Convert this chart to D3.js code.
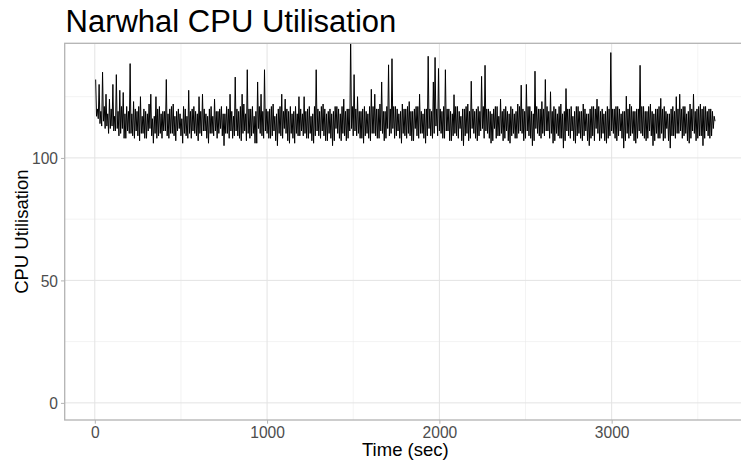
<!DOCTYPE html>
<html>
<head>
<meta charset="utf-8">
<script src="https://cdn.jsdelivr.net/npm/d3@7"></script>
<style>
  body { margin: 0; background: #fff; }
  svg { display: block; font-family: "Liberation Sans", Arial, sans-serif; }
  .title { font-size: 31px; fill: #000; }
  .axisTitle { font-size: 18.5px; fill: #000; }
  .tickLabel { font-size: 15.6px; fill: #4d4d4d; }
</style>
</head>
<body>
<div id="container"></div>
<script>
// cpu trace read off the reference plot as alternating peaks and troughs
// peaks: t = 5, 15, 25 ... 3595
var cpuPeaks = [
  132, 120, 130, 119, 135, 121, 126, 118, 124, 120, 130, 117, 134, 119, 127.6, 121, 126.7, 118, 121, 119,
  138.5, 118, 123, 120, 119, 121, 125, 117, 120, 119, 118, 122, 126, 116, 117, 125, 120, 121, 118, 119,
  119, 132, 118, 120, 121, 122, 117, 119, 120, 118, 116, 121, 120, 117, 127.6, 119, 120, 121, 119, 118,
  125, 119, 126, 120, 118, 117, 120, 121, 117, 124, 119, 119, 120, 121, 118, 118, 121, 120, 126, 119,
  117, 133, 120, 119, 121, 126, 122, 118, 136, 120, 120, 121, 117, 119, 131, 121, 126, 119, 136, 120,
  119, 120, 121, 122, 117, 118, 120, 121, 126, 119, 124, 120, 119, 121, 118, 119, 121, 118, 125, 120,
  118, 125, 119, 120, 121, 117, 118, 121, 136, 120, 119, 121, 122, 120, 118, 119, 120, 118, 119, 121,
  121, 120, 118, 121, 124, 119, 120, 120, 150, 121, 134, 120, 125, 119, 119, 120, 121, 119, 118, 121,
  128, 121, 126, 120, 120, 122, 131, 119, 119, 121, 138, 120, 140.5, 121, 121, 120, 118, 119, 122, 120,
  120, 121, 123, 119, 119, 120, 121, 121, 126, 119, 118, 120, 120, 141.5, 120, 119, 131, 141, 120, 136.5,
  120, 119, 121, 136, 120, 120, 119, 118, 125.8, 121, 121, 119, 117, 120, 120, 121, 122, 119, 131.3, 120,
  119, 120, 121, 119, 133.3, 121, 137.8, 120, 120, 119, 118, 120, 121, 121, 117, 124, 119, 120, 121, 119,
  118, 121, 120, 118, 119, 122, 121, 129.7, 120, 119, 130, 121, 121, 119, 118, 135.4, 121, 120, 120, 123,
  120, 132, 121, 119, 127, 119, 121, 120, 118, 121, 122, 118, 119, 128.3, 120, 120, 121, 117, 119, 121,
  121, 119, 119, 122, 120, 118, 118, 120, 121, 121, 120, 124, 121, 119, 120, 118, 119, 121, 120, 143,
  120, 120, 121, 121, 120, 118, 119, 119, 125.2, 120, 122, 121, 119, 119, 120, 120, 137.8, 121, 121, 119,
  119, 121, 122, 119, 118, 120, 120, 121, 124.3, 120, 121, 119, 118, 118, 120, 121, 119, 125, 120, 126,
  120, 121, 121, 118, 119, 122, 120, 126, 119, 120, 121, 122, 120, 121, 121, 119, 120, 120, 119, 117
];
// troughs: t = 10, 20, 30 ... 3600
var cpuTroughs = [
  117, 116, 114, 113, 115, 112, 113, 110, 112, 113, 111, 111, 112, 109, 110, 112, 108, 108, 111, 110,
  110, 109, 108, 111, 109, 107, 110, 110, 108, 108, 111, 112, 109, 106, 110, 108, 109, 110, 108, 111,
  111, 109, 108, 110, 110, 109, 107, 111, 112, 109, 106, 110, 109, 108, 110, 108, 111, 110, 109, 107,
  110, 109, 111, 111, 108, 106, 110, 110, 109, 111, 108, 110, 112, 109, 105, 110, 110, 108, 111, 108,
  109, 111, 109, 108, 107, 110, 111, 107, 110, 108, 109, 110, 106, 106, 112, 110, 109, 108, 111, 110,
  108, 108, 109, 111, 107, 105, 110, 109, 108, 112, 110, 107, 106, 110, 108, 106, 110, 109, 109, 111,
  109, 110, 108, 108, 110, 107, 106, 109, 111, 109, 108, 111, 109, 107, 107, 110, 108, 105, 107, 112,
  110, 108, 107, 110, 109, 107, 108, 111, 112, 109, 111, 109, 110, 108, 108, 106, 109, 110, 108, 107,
  110, 110, 109, 108, 108, 111, 110, 107, 108, 112, 109, 110, 112, 108, 109, 111, 108, 106, 110, 109,
  108, 110, 109, 107, 107, 112, 109, 108, 110, 110, 108, 106, 109, 112, 109, 108, 110, 113, 109, 111,
  110, 108, 108, 111, 111, 107, 107, 109, 110, 109, 108, 112, 107, 105, 109, 110, 107, 108, 112, 110,
  108, 107, 109, 111, 112, 108, 111, 110, 108, 106, 107, 112, 108, 109, 109, 110, 107, 108, 111, 107,
  106, 109, 110, 108, 108, 110, 111, 110, 107, 108, 111, 109, 108, 105, 107, 112, 110, 109, 108, 110,
  109, 111, 111, 108, 110, 106, 107, 110, 109, 108, 108, 104, 107, 111, 109, 108, 111, 107, 106, 109,
  110, 108, 107, 109, 111, 107, 105, 108, 109, 107, 112, 110, 107, 108, 110, 107, 106, 108, 109, 111,
  110, 108, 107, 109, 111, 108, 104, 107, 110, 108, 109, 110, 107, 106, 108, 111, 110, 109, 108, 107,
  108, 111, 109, 105, 107, 110, 108, 108, 110, 107, 108, 112, 107, 104, 109, 109, 108, 110, 110, 111,
  108, 109, 110, 107, 106, 108, 111, 110, 107, 108, 109, 109, 105, 108, 111, 109, 108, 109, 112, 115
];
var peakTimes = d3.range(5, 3600, 10);
var troughTimes = d3.range(10, 3601, 10);
var xTicks = [0, 1000, 2000, 3000];
var xMinor = [500, 1500, 2500, 3500];
var yTicks = [0, 50, 100];
var yMinor = [25, 75, 125];
var yLimit = [0, 139.8];

var width = 741, height = 466;
var margin = { top: 43.3, right: -5, bottom: 46, left: 64.7 };

var data = peakTimes.map(function(t, i) { return { t: t, cpu: cpuPeaks[i] }; })
  .concat(troughTimes.map(function(t, i) { return { t: t, cpu: cpuTroughs[i] }; }))
  .sort(function(a, b) { return a.t - b.t; });

var xExt = d3.extent(data, function(d) { return d.t; });
var xPad = (xExt[1] - xExt[0]) * 0.05;
var yPad = (yLimit[1] - yLimit[0]) * 0.05;

var x = d3.scaleLinear()
  .domain([xExt[0] - xPad, xExt[1] + xPad])
  .range([margin.left, width - margin.right]);
var y = d3.scaleLinear()
  .domain([yLimit[0] - yPad, yLimit[1] + yPad])
  .range([height - margin.bottom, margin.top]);

var svg = d3.select("#container")
  .append("svg")
    .attr("width", width)
    .attr("height", height);

svg.append("defs")
  .append("clipPath")
    .attr("id", "panelClip")
  .append("rect")
    .attr("x", margin.left)
    .attr("y", margin.top)
    .attr("width", width - margin.right - margin.left)
    .attr("height", height - margin.bottom - margin.top);

var grid = svg.append("g").attr("id", "grid");
grid.selectAll(".minorX")
  .data(xMinor)
  .enter().append("line")
    .attr("x1", function(d) { return x(d); })
    .attr("x2", function(d) { return x(d); })
    .attr("y1", margin.top)
    .attr("y2", height - margin.bottom)
    .attr("stroke", "#ebebeb")
    .attr("stroke-width", 0.6);
grid.selectAll(".minorY")
  .data(yMinor)
  .enter().append("line")
    .attr("x1", margin.left)
    .attr("x2", width - margin.right)
    .attr("y1", function(d) { return y(d); })
    .attr("y2", function(d) { return y(d); })
    .attr("stroke", "#ebebeb")
    .attr("stroke-width", 0.6);
grid.selectAll(".majorX")
  .data(xTicks)
  .enter().append("line")
    .attr("x1", function(d) { return x(d); })
    .attr("x2", function(d) { return x(d); })
    .attr("y1", margin.top)
    .attr("y2", height - margin.bottom)
    .attr("stroke", "#e3e3e3")
    .attr("stroke-width", 1);
grid.selectAll(".majorY")
  .data(yTicks)
  .enter().append("line")
    .attr("x1", margin.left)
    .attr("x2", width - margin.right)
    .attr("y1", function(d) { return y(d); })
    .attr("y2", function(d) { return y(d); })
    .attr("stroke", "#e3e3e3")
    .attr("stroke-width", 1);

var line = d3.line()
  .x(function(d) { return x(d.t); })
  .y(function(d) { return y(d.cpu); });

svg.append("path")
  .datum(data)
    .attr("clip-path", "url(#panelClip)")
    .attr("fill", "none")
    .attr("stroke", "#000")
    .attr("stroke-width", 1)
    .attr("stroke-linejoin", "bevel")
    .attr("d", line);

svg.append("rect")
  .attr("x", margin.left)
  .attr("y", margin.top)
  .attr("width", width - margin.right - margin.left)
  .attr("height", height - margin.bottom - margin.top)
  .attr("fill", "none")
  .attr("stroke", "#b3b3b3")
  .attr("stroke-width", 1.3);

var xAxis = d3.axisBottom(x)
  .tickValues(xTicks)
  .tickFormat(d3.format("d"))
  .tickSizeInner(3.7)
  .tickSizeOuter(0)
  .tickPadding(3);
var yAxis = d3.axisLeft(y)
  .tickValues(yTicks)
  .tickFormat(d3.format("d"))
  .tickSizeInner(3.7)
  .tickSizeOuter(0)
  .tickPadding(3);

var xAxisGroup = svg.append("g")
  .attr("transform", "translate(0," + (height - margin.bottom) + ")")
  .call(xAxis);
var yAxisGroup = svg.append("g")
  .attr("transform", "translate(" + margin.left + ",0)")
  .call(yAxis);

[xAxisGroup, yAxisGroup].forEach(function(g) {
  g.select(".domain").remove();
  g.selectAll(".tick line").attr("stroke", "#b3b3b3").attr("stroke-width", 1);
  g.selectAll(".tick text")
    .classed("tickLabel", true)
    .attr("font-family", null)
    .attr("font-size", null)
    .attr("fill", null);
});
yAxisGroup.selectAll(".tick text").attr("dy", "0.36em");

svg.append("text")
  .classed("title", true)
  .attr("x", 65.5)
  .attr("y", 31.5)
  .text("Narwhal CPU Utilisation");

svg.append("text")
  .classed("axisTitle", true)
  .attr("text-anchor", "middle")
  .attr("x", (margin.left + 746) / 2)
  .attr("y", 456)
  .text("Time (sec)");

svg.append("text")
  .classed("axisTitle", true)
  .attr("text-anchor", "middle")
  .attr("transform", "translate(28," + ((margin.top + height - margin.bottom) / 2) + ") rotate(-90)")
  .text("CPU Utilisation");
</script>
</body>
</html>
